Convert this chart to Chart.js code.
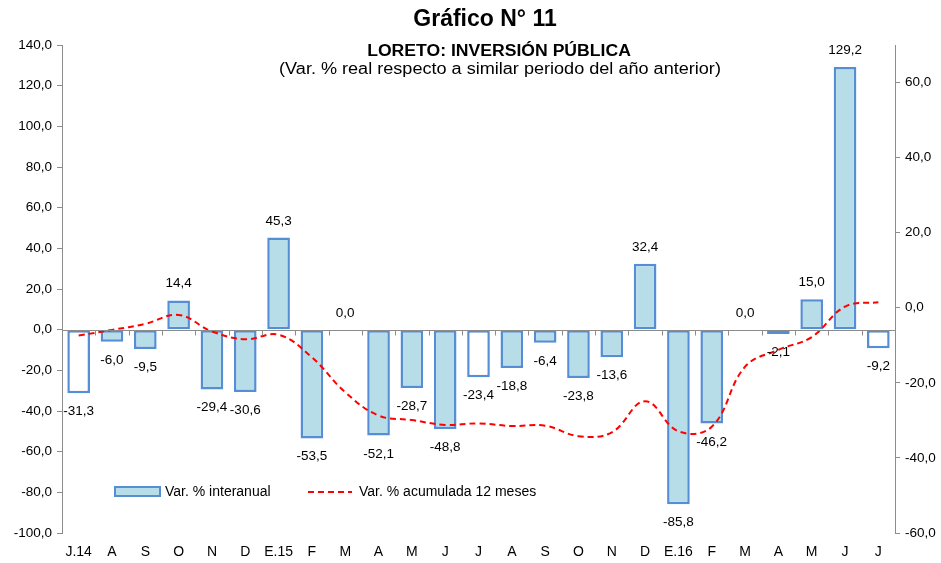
<!DOCTYPE html>
<html>
<head>
<meta charset="utf-8">
<script src="https://cdn.jsdelivr.net/npm/chart.js@4"></script>
<style>
  body { margin: 0; background: #fff; }
  #wrap { width: 941px; height: 563px; }
</style>
</head>
<body>
<div id="wrap"><canvas id="mychart" width="941" height="563"></canvas></div>
<script>
const months = ['J.14','A','S','O','N','D','E.15','F','M','A','M','J','J','A','S','O','N','D','E.16','F','M','A','M','J','J'];
const interanual = [-31.3,-6.0,-9.5,14.4,-29.4,-30.6,45.3,-53.5,0.0,-52.1,-28.7,-48.8,-23.4,-18.8,-6.4,-23.8,-13.6,32.4,-85.8,-46.2,0.0,-2.1,15.0,129.2,-9.2];
const acumulada = [-7.4,-5.9,-4.3,-1.9,-6.3,-8.4,-7.2,-13.2,-22.5,-28.7,-29.9,-31.2,-30.8,-31.5,-31.4,-34.2,-33.2,-24.9,-32.9,-31.7,-15.7,-11.2,-7.8,0.3,1.5];
const leftTicks = [-100,140,20];
const rightTicks = [-60,70,20];

const fmt = v => v.toFixed(1).replace('.', ',');
const FONT = "'Liberation Sans', Arial, sans-serif";
const BAR_FILL = '#B7DEE8';
const BAR_EDGE = '#558ED5';
const AXIS = '#8C8C8C';

// July bars are drawn hollow
const barFills = months.map((m, i) => (i % 12 === 0) ? '#FFFFFF' : BAR_FILL);

// text stretched sideways a little, like the original
function wideText(ctx, txt, x, y, sx) {
  ctx.save();
  ctx.translate(x, y);
  ctx.scale(sx, 1);
  ctx.fillText(txt, 0, 0);
  ctx.restore();
}

const extras = {
  id: 'extras',
  afterDatasetsDraw(chart) {
    const ctx = chart.ctx;
    const y = chart.scales.y;
    const area = chart.chartArea;
    ctx.save();
    // zero line with category ticks
    const y0 = Math.round(y.getPixelForValue(0)) + 0.5;
    ctx.strokeStyle = AXIS;
    ctx.lineWidth = 1;
    ctx.beginPath();
    ctx.moveTo(area.left, y0);
    ctx.lineTo(area.right, y0);
    const step = (area.right - area.left) / months.length;
    for (let i = 1; i < months.length; i++) {
      const tx = Math.round(area.left + step * i) + 0.5;
      ctx.moveTo(tx, y0);
      ctx.lineTo(tx, y0 + 5);
    }
    ctx.stroke();

    // data labels
    ctx.fillStyle = '#000';
    ctx.font = '13.5px ' + FONT;
    ctx.textAlign = 'center';
    ctx.textBaseline = 'alphabetic';
    chart.getDatasetMeta(0).data.forEach((bar, i) => {
      const v = interanual[i];
      const ty = v >= 0 ? bar.y - 13 : bar.y + 22;
      ctx.fillText(fmt(v), bar.x, ty);
    });

    // titles
    ctx.textBaseline = 'middle';
    ctx.font = 'bold 23px ' + FONT;
    ctx.fillText('Gráfico N° 11', 485, 20);
    ctx.font = 'bold 16px ' + FONT;
    wideText(ctx, 'LORETO: INVERSIÓN PÚBLICA', 499, 52, 1.1);
    ctx.font = '16px ' + FONT;
    wideText(ctx, '(Var. % real respecto a similar periodo del año anterior)', 500, 70, 1.13);

    // legend
    ctx.fillStyle = BAR_FILL;
    ctx.fillRect(115, 487, 45, 9);
    ctx.strokeStyle = BAR_EDGE;
    ctx.lineWidth = 2;
    ctx.strokeRect(115, 487, 45, 9);
    ctx.strokeStyle = '#FF0000';
    ctx.setLineDash([6, 4]);
    ctx.beginPath();
    ctx.moveTo(308, 492);
    ctx.lineTo(352, 492);
    ctx.stroke();
    ctx.setLineDash([]);
    ctx.fillStyle = '#000';
    ctx.textAlign = 'left';
    ctx.font = '14px ' + FONT;
    ctx.fillText('Var. % interanual', 165, 492);
    ctx.fillText('Var. % acumulada 12 meses', 359, 492);
    ctx.restore();
  }
};

new Chart(document.getElementById('mychart'), {
  type: 'bar',
  data: {
    labels: months,
    datasets: [{
      type: 'bar',
      label: 'Var. % interanual',
      data: interanual,
      yAxisID: 'y',
      backgroundColor: barFills,
      borderColor: BAR_EDGE,
      borderWidth: 2.5,
      borderSkipped: false,
      barPercentage: 0.68,
      categoryPercentage: 1,
      order: 2
    }, {
      type: 'line',
      label: 'Var. % acumulada 12 meses',
      data: acumulada,
      yAxisID: 'y1',
      borderColor: '#FF0000',
      borderWidth: 2,
      borderDash: [6, 4],
      pointRadius: 0,
      tension: 0.4,
      fill: false,
      order: 1
    }]
  },
  options: {
    responsive: false,
    animation: false,
    layout: { padding: { top: 45, left: 0, right: 0, bottom: 0 } },
    plugins: { legend: { display: false }, title: { display: false }, tooltip: { enabled: false } },
    scales: {
      x: {
        grid: { display: false, drawTicks: false },
        border: { display: false },
        ticks: { font: { family: FONT, size: 14 }, color: '#000', padding: 11, maxRotation: 0, autoSkip: false },
        afterFit: s => { s.height = 30; }
      },
      y: {
        position: 'left',
        min: leftTicks[0], max: leftTicks[1],
        ticks: { stepSize: leftTicks[2], callback: v => fmt(v), font: { family: FONT, size: 13.5 }, color: '#000', padding: 5 },
        grid: { drawOnChartArea: false, tickLength: 5, color: AXIS },
        border: { color: AXIS },
        afterFit: s => { s.width = 62; }
      },
      y1: {
        position: 'right',
        min: rightTicks[0], max: rightTicks[1],
        afterBuildTicks: s => { s.ticks = s.ticks.filter(t => t.value !== rightTicks[1]); },
        ticks: { stepSize: rightTicks[2], callback: v => fmt(v), font: { family: FONT, size: 13.5 }, color: '#000', padding: 5 },
        grid: { drawOnChartArea: false, tickLength: 5, color: AXIS },
        border: { color: AXIS },
        afterFit: s => { s.width = 46; }
      }
    }
  },
  plugins: [extras]
});
</script>
</body>
</html>
